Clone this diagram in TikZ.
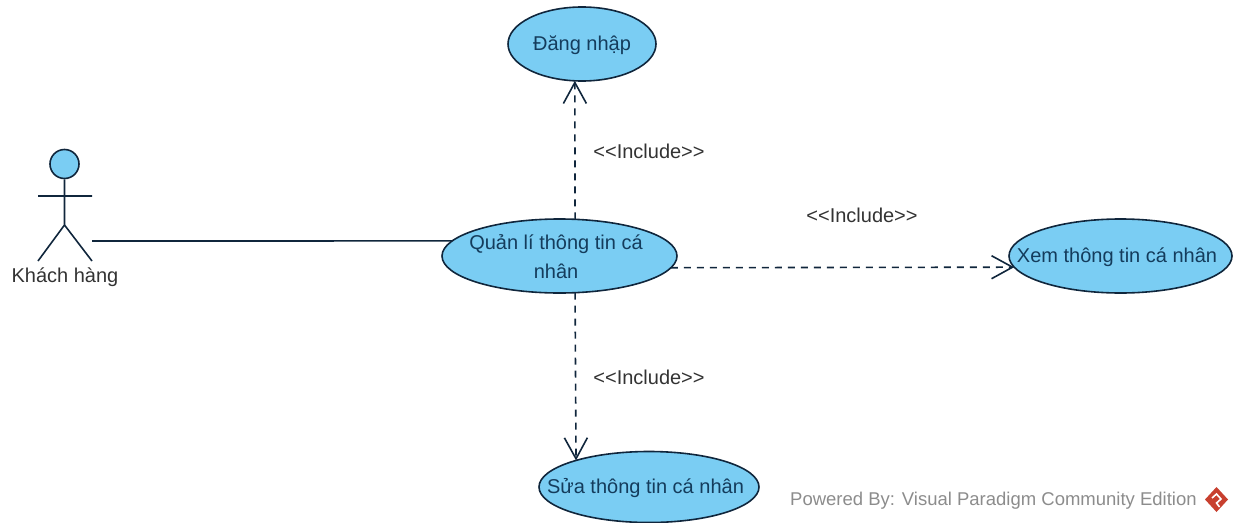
\documentclass[tikz,border=0pt]{standalone}
\usepackage{fontspec}
\setmainfont{Liberation Sans}
\usetikzlibrary{arrows.meta,shapes.geometric}
\definecolor{ucfill}{HTML}{7ACDF3}
\definecolor{ucline}{HTML}{10263C}
\definecolor{uctext}{HTML}{143C5C}
\definecolor{inktext}{HTML}{333333}
\definecolor{wmark}{HTML}{8C8C8C}
\definecolor{logored}{HTML}{C8402F}
\tikzset{
  x=1pt,y=-1pt,
  usecase/.style={ellipse,draw=ucline,fill=ucfill,line width=1.6pt,inner sep=0pt,outer sep=0pt},
  uclabel/.style={text=uctext,font=\fontsize{20}{29}\selectfont,align=center,inner sep=0pt},
  solidline/.style={draw=ucline,line width=1.6pt},
  incl/.style={draw=ucline,line width=1.6pt,dash pattern=on 7pt off 6pt,-{Straight Barb[length=21pt,width=23pt,line width=1.6pt]}},
  lbl/.style={text=inktext,font=\fontsize{20}{24}\selectfont,inner sep=0pt},
  wm/.style={text=wmark,font=\fontsize{18.5}{22}\selectfont,inner sep=0pt,anchor=west}
}
\begin{document}
\begin{tikzpicture}
\useasboundingbox (0,0) rectangle (1236,522);
\node[usecase,minimum width=148pt,minimum height=74pt,label={[uclabel,yshift=-1pt]center:Đăng nhập}] (dang) at (582,44) {};
\node[usecase,minimum width=235pt,minimum height=74pt,label={[uclabel,xshift=-3.5pt,yshift=-1pt]center:Quản lí thông tin cá\\nhân}] (ql) at (559.5,256) {};
\node[usecase,minimum width=223pt,minimum height=74pt,label={[uclabel,xshift=-3.5pt,yshift=-1pt]center:Xem thông tin cá nhân}] (xem) at (1120.5,256) {};
\node[usecase,minimum width=220pt,minimum height=71pt,label={[uclabel,xshift=-3.5pt,yshift=-1pt]center:Sửa thông tin cá nhân}] (sua) at (649,487) {};
\node[circle,draw=ucline,fill=ucfill,line width=1.6pt,minimum size=29pt,inner sep=0pt] (head) at (64.5,164) {};
\coordinate (neck) at (head.south);
\coordinate (hip) at (64.5,225);
\coordinate (armL) at (38,196);
\coordinate (armR) at (92,196);
\coordinate (footL) at (38,261);
\coordinate (footR) at (92,261);
\coordinate (actorR) at (92,241);
\draw[solidline] (neck) -- (hip) (armL) -- (armR) (footL) -- (hip) -- (footR);
\node[lbl] (actorname) at (65,277) {Khách hàng};
\draw[solidline] (actorR) -- (ql.172);
\draw[incl] (ql.67.1) -- (dang.259.2);
\draw[incl] (ql.-6.7) -- (xem.186.7);
\draw[incl] (ql.-67.1) -- (sua.160.4);
\node[lbl] (l1) at (649,151) {<{}<Include>{}>};
\node[lbl] (l2) at (862,215) {<{}<Include>{}>};
\node[lbl] (l3) at (649,377) {<{}<Include>{}>};
\node[wm] (wm) at (790,501) {Powered By: Visual Paradigm Community Edition};
\fill[logored] (1216.5,487) -- (1228,499.5) -- (1216.5,512) -- (1205,499.5) -- cycle;
\draw[white,line width=1.6pt] (1212,498) -- (1216.5,494) -- (1221,499) -- (1216.5,503) -- (1219.5,507);
\end{tikzpicture}
\end{document}
